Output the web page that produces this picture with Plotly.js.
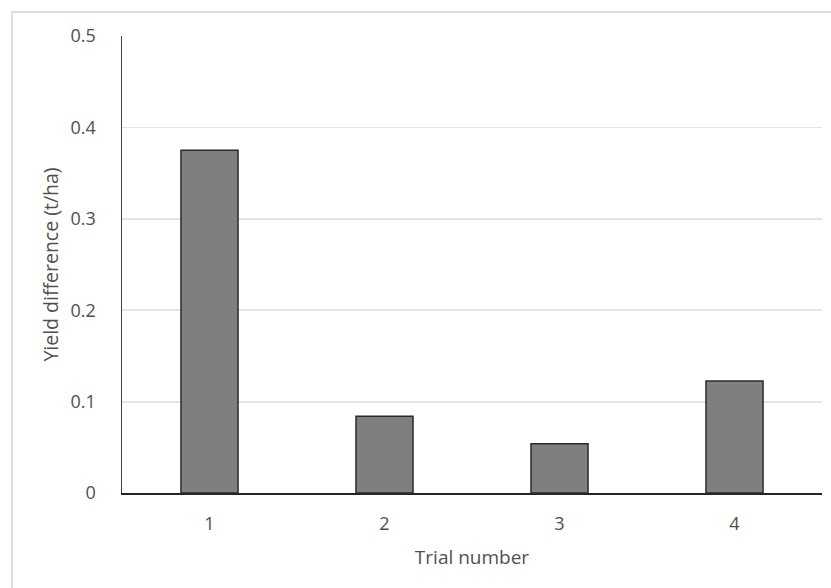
<!DOCTYPE html>
<html>
<head>
<meta charset="utf-8">
<script src="https://cdn.plot.ly/plotly-3.0.1.min.js"></script>
<style>html,body{margin:0;padding:0;background:#fff;}#chart{width:831px;height:588px;}</style>
</head>
<body>
<div id="chart"></div>
<script>
const trials = ["1", "2", "3", "4"];
const yieldDiff = [0.375, 0.084, 0.054, 0.1225];
const yTicks = [0, 0.1, 0.2, 0.3, 0.4, 0.5];
const yTickText = ["0", "0.1", "0.2", "0.3", "0.4", "0.5"];

const FONT = "'Open Sans', sans-serif";
const TXT = "#505050";

const data = [{
  type: "bar",
  x: trials,
  y: yieldDiff,
  width: 0.326,
  marker: { color: "#7f7f7f", line: { color: "#2b2b2b", width: 1.5 } },
  hoverinfo: "x+y"
}];

const layout = {
  width: 831, height: 588,
  margin: { l: 122, r: 9, t: 36, b: 95 },
  paper_bgcolor: "#ffffff",
  plot_bgcolor: "#ffffff",
  showlegend: false,
  font: { family: FONT, color: TXT, size: 18 },
  xaxis: {
    type: "category",
    showgrid: false,
    showline: true, linecolor: "#262626", linewidth: 1.5,
    ticks: "", ticklabelstandoff: 14,
    tickfont: { family: FONT, color: TXT, size: 18 },
    title: { text: "Trial number", font: { family: FONT, color: TXT, size: 19 }, standoff: 16 }
  },
  yaxis: {
    range: [0, 0.5],
    tickvals: yTicks, ticktext: yTickText,
    showgrid: true, gridcolor: "#e3e3e3", gridwidth: 1.8,
    zeroline: false,
    showline: true, linecolor: "#404040", linewidth: 1.5,
    ticks: "", ticklabelstandoff: 21,
    tickfont: { family: FONT, color: TXT, size: 18 },
    title: { text: "Yield difference (t/ha)", font: { family: FONT, color: TXT, size: 19.5 }, standoff: 7 }
  },
  shapes: [{
    type: "rect", xref: "paper", yref: "paper",
    x0: -0.157, x1: 1.05, y0: -0.25, y1: 1.0525,
    line: { color: "#d4d4d4", width: 1.5 }, fillcolor: "rgba(0,0,0,0)", layer: "below"
  }]
};

Plotly.newPlot("chart", data, layout, { displayModeBar: false, staticPlot: true });
</script>
</body>
</html>
